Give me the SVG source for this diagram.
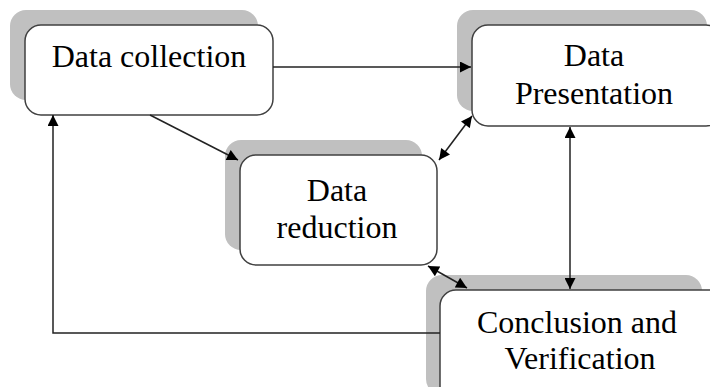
<svg xmlns="http://www.w3.org/2000/svg" width="710" height="387" viewBox="0 0 710 387">
<style>
.sh{fill:#c0c0c0;stroke:none}
.bx{fill:#fff;stroke:#404040;stroke-width:1.5}
.t{font-family:"Liberation Serif","Times New Roman",serif;font-size:32px;fill:#000;text-anchor:middle}
.c{fill:none;stroke:#222;stroke-width:1.5}
</style>
<defs>
<marker id="ae" viewBox="0 0 10 10" refX="10" refY="5" markerWidth="13" markerHeight="11" orient="auto" markerUnits="userSpaceOnUse">
<path d="M0,0 L10,5 L0,10 z" fill="#000"/>
</marker>
<marker id="as" viewBox="0 0 10 10" refX="0" refY="5" markerWidth="13" markerHeight="11" orient="auto" markerUnits="userSpaceOnUse">
<path d="M10,0 L0,5 L10,10 z" fill="#000"/>
</marker>
</defs>
<rect width="710" height="387" fill="#fff"/>
<g id="data-collection">
<rect class="sh" x="10" y="10" width="248" height="90" rx="16"/>
<rect class="bx" x="25" y="25" width="248" height="90" rx="16"/>
<text class="t" x="149" y="67">Data collection</text>
</g>
<g id="data-presentation">
<rect class="sh" x="457" y="10" width="250" height="101" rx="16"/>
<rect class="bx" x="472" y="25" width="250" height="101" rx="16"/>
<text class="t" x="594" y="66">Data</text>
<text class="t" x="594" y="104">Presentation</text>
</g>
<g id="data-reduction">
<rect class="sh" x="225" y="140" width="197" height="110" rx="16"/>
<rect class="bx" x="240" y="155" width="197" height="110" rx="16"/>
<text class="t" x="337" y="201">Data</text>
<text class="t" x="337" y="238">reduction</text>
</g>
<g id="conclusion">
<rect class="sh" x="426" y="275" width="276" height="120" rx="16"/>
<rect class="bx" x="440" y="290" width="290" height="120" rx="16"/>
<text class="t" x="577" y="333">Conclusion and</text>
<text class="t" x="580" y="369">Verification</text>
</g>
<g id="connectors">
<line class="c" x1="273" y1="67" x2="471" y2="67" marker-end="url(#ae)"/>
<line class="c" x1="150" y1="115" x2="238" y2="160" marker-end="url(#ae)"/>
<line class="c" x1="439" y1="160" x2="472" y2="116" marker-start="url(#as)" marker-end="url(#ae)"/>
<line class="c" x1="570" y1="127" x2="570" y2="289" marker-start="url(#as)" marker-end="url(#ae)"/>
<line class="c" x1="428" y1="266" x2="467" y2="288" marker-start="url(#as)" marker-end="url(#ae)"/>
<polyline class="c" points="440,333 53,333 53,115" marker-end="url(#ae)"/>
</g>
</svg>
